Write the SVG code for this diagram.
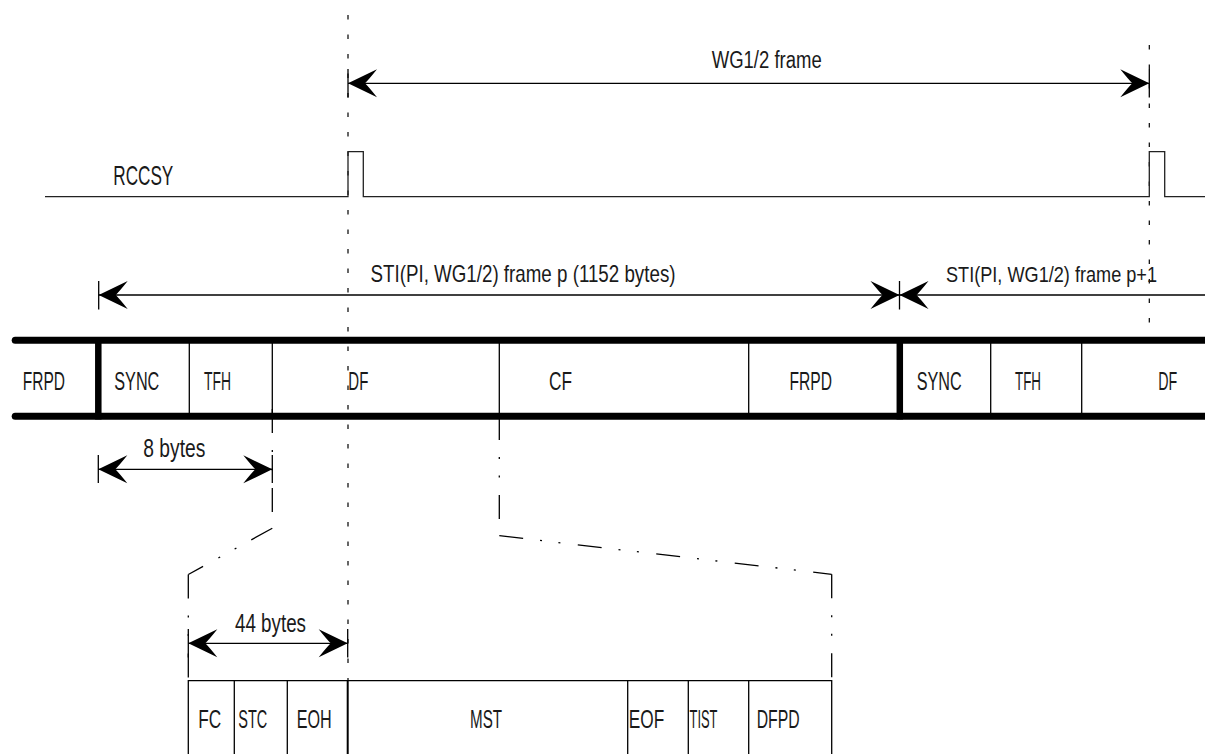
<svg xmlns="http://www.w3.org/2000/svg" width="1205" height="754" viewBox="0 0 1205 754">
<style>
  text { font-family: "Liberation Sans Narrow", "Liberation Sans", Arial, sans-serif; fill: #1a1a1a; }
  .thin { stroke: #000; stroke-width: 1.3; fill: none; }
  .sig { stroke: #222; stroke-width: 1.3; fill: none; }
  .bar { stroke: #000; stroke-width: 7; fill: none; stroke-linecap: round; }
  .bold { stroke: #000; stroke-width: 6.5; fill: none; }
  .dim { stroke: #000; stroke-width: 1.3; fill: none; marker-start: url(#ah); marker-end: url(#ah); }
  .guide { stroke: #000; stroke-width: 1.2; fill: none; stroke-dasharray: 4.5 15; }
  .exp { stroke: #000; stroke-width: 1.3; fill: none; stroke-dasharray: 24 17 2 16.5 2 17.5; }
  .lbl { font-size: 26.5px; }
  .sm { font-size: 24px; }
</style>
<defs>
  <marker id="ah" viewBox="-30 -15 31 30" markerWidth="31" markerHeight="30" refX="0" refY="0" orient="auto-start-reverse" markerUnits="userSpaceOnUse" overflow="visible">
    <path d="M0,0 L-29,-14 Q-21,-4 -17,0 Q-21,4 -29,14 Z" fill="#000"/>
  </marker>
</defs>
<rect width="1205" height="754" fill="#fff"/>

<g id="connectors">
  <!-- vertical timing guides -->
  <line class="guide" x1="348" y1="15" x2="348" y2="680"/>
  <line class="guide" x1="1149.3" y1="45" x2="1149.3" y2="323"/>
  <!-- WG1/2 frame dimension -->
  <line class="thin" x1="348" y1="69" x2="348" y2="97.5"/>
  <line class="thin" x1="1149.3" y1="69" x2="1149.3" y2="97.5"/>
  <line class="dim" x1="348" y1="83.3" x2="1149.3" y2="83.3"/>
  <!-- STI frame dimensions -->
  <line class="thin" x1="98.7" y1="281" x2="98.7" y2="309.5"/>
  <line class="thin" x1="899.5" y1="281" x2="899.5" y2="309.5"/>
  <line class="dim" x1="98.7" y1="295" x2="899.5" y2="295"/>
  <line class="thin" x1="899.5" y1="295" x2="1210" y2="295" marker-start="url(#ah)"/>
  <!-- 8 bytes -->
  <line class="thin" x1="98.3" y1="455" x2="98.3" y2="483"/>
  <line class="thin" x1="272.3" y1="455" x2="272.3" y2="483"/>
  <line class="dim" x1="98.3" y1="469.3" x2="272.3" y2="469.3"/>
  <!-- expansion lines -->
  <line class="exp" x1="272.3" y1="409" x2="272.3" y2="528.3"/>
  <line class="exp" x1="272.3" y1="528.3" x2="188.3" y2="574.5"/>
  <line class="exp" x1="188.3" y1="574.5" x2="188.3" y2="681"/>
  <line class="exp" x1="499.3" y1="416" x2="499.3" y2="535.7"/>
  <line class="exp" x1="499.3" y1="535.7" x2="831.7" y2="574.3"/>
  <line class="exp" x1="831.7" y1="574.3" x2="831.7" y2="681"/>
  <!-- 44 bytes -->
  <line class="thin" x1="188.3" y1="629" x2="188.3" y2="657.5"/>
  <line class="thin" x1="347.7" y1="629" x2="347.7" y2="657.5"/>
  <line class="dim" x1="188.3" y1="643.3" x2="347.7" y2="643.3"/>
</g>

<g id="wg-frame-label">
  <text x="711.7" y="67.7" style="font-size:23px" textLength="110" lengthAdjust="spacingAndGlyphs">WG1/2 frame</text>
</g>

<g id="rccsy">
  <polyline class="sig" points="45,196.7 348,196.7 348,151.7 363.3,151.7 363.3,196.7 1149.3,196.7 1149.3,151.7 1164.7,151.7 1164.7,196.7 1210,196.7"/>
  <text x="113.3" y="185" style="font-size:28.5px" textLength="60" lengthAdjust="spacingAndGlyphs">RCCSY</text>
</g>

<g id="sti-labels">
  <text class="sm" x="370.5" y="281.5" textLength="305" lengthAdjust="spacingAndGlyphs">STI(PI, WG1/2) frame p (1152 bytes)</text>
  <text x="946" y="281.5" style="font-size:21.8px" textLength="211" lengthAdjust="spacingAndGlyphs">STI(PI, WG1/2) frame p+1</text>
</g>

<g id="sti-stream">
  <line class="bar" x1="15.2" y1="340.3" x2="1212" y2="340.3"/>
  <line class="bar" x1="15.2" y1="416.3" x2="1212" y2="416.3"/>
  <line class="bold" x1="98.3" y1="340" x2="98.3" y2="419.5"/>
  <line class="bold" x1="899.8" y1="340" x2="899.8" y2="419.5"/>
  <g id="cell-frpd-prev"><text class="lbl" x="22.7" y="390" textLength="42.3" lengthAdjust="spacingAndGlyphs">FRPD</text></g>
  <g id="cell-sync"><text class="lbl" x="114.3" y="390" textLength="45" lengthAdjust="spacingAndGlyphs">SYNC</text></g>
  <g id="cell-tfh"><line class="thin" x1="189.3" y1="340" x2="189.3" y2="416"/><text class="lbl" x="204" y="390" textLength="27" lengthAdjust="spacingAndGlyphs">TFH</text></g>
  <g id="cell-df"><line class="thin" x1="272.3" y1="340" x2="272.3" y2="416"/><text class="lbl" x="348.3" y="390" textLength="20" lengthAdjust="spacingAndGlyphs">DF</text></g>
  <g id="cell-cf"><line class="thin" x1="499.3" y1="340" x2="499.3" y2="416"/><text class="lbl" x="549" y="390" textLength="23" lengthAdjust="spacingAndGlyphs">CF</text></g>
  <g id="cell-frpd"><line class="thin" x1="748.7" y1="340" x2="748.7" y2="416"/><text class="lbl" x="789.5" y="390" textLength="42.5" lengthAdjust="spacingAndGlyphs">FRPD</text></g>
  <g id="cell-sync-next"><text class="lbl" x="916.7" y="390" textLength="45" lengthAdjust="spacingAndGlyphs">SYNC</text></g>
  <g id="cell-tfh-next"><line class="thin" x1="990.7" y1="340" x2="990.7" y2="416"/><text class="lbl" x="1015" y="390" textLength="26" lengthAdjust="spacingAndGlyphs">TFH</text></g>
  <g id="cell-df-next"><line class="thin" x1="1081.7" y1="340" x2="1081.7" y2="416"/><text class="lbl" x="1158.3" y="390" textLength="19" lengthAdjust="spacingAndGlyphs">DF</text></g>
</g>

<g id="dim-labels">
  <text class="lbl" x="143.3" y="456.7" textLength="62" lengthAdjust="spacingAndGlyphs">8 bytes</text>
  <text class="lbl" x="235" y="631.7" textLength="71" lengthAdjust="spacingAndGlyphs">44 bytes</text>
</g>

<g id="df-detail">
  <line class="thin" x1="188.3" y1="680.7" x2="831.7" y2="680.7"/>
  <g id="cell-fc"><line class="thin" x1="188.3" y1="680" x2="188.3" y2="760"/><text class="lbl" x="198.3" y="728.3" textLength="23" lengthAdjust="spacingAndGlyphs">FC</text></g>
  <g id="cell-stc"><line class="thin" x1="234.3" y1="680" x2="234.3" y2="760"/><text class="lbl" x="238.3" y="728.3" textLength="29" lengthAdjust="spacingAndGlyphs">STC</text></g>
  <g id="cell-eoh"><line class="thin" x1="287.3" y1="680" x2="287.3" y2="760"/><text class="lbl" x="296.7" y="728.3" textLength="35" lengthAdjust="spacingAndGlyphs">EOH</text></g>
  <g id="cell-mst"><line class="thin" x1="347.7" y1="680" x2="347.7" y2="760" style="stroke-width:2"/><text class="lbl" x="470" y="728.3" textLength="32" lengthAdjust="spacingAndGlyphs">MST</text></g>
  <g id="cell-eof"><line class="thin" x1="627.7" y1="680" x2="627.7" y2="760"/><text class="lbl" x="628.8" y="728.3" textLength="35.5" lengthAdjust="spacingAndGlyphs">EOF</text></g>
  <g id="cell-tist"><line class="thin" x1="688.3" y1="680" x2="688.3" y2="760"/><text class="lbl" x="689.5" y="728.3" textLength="28" lengthAdjust="spacingAndGlyphs">TIST</text></g>
  <g id="cell-dfpd"><line class="thin" x1="748.7" y1="680" x2="748.7" y2="760"/><text class="lbl" x="756.7" y="728.3" textLength="43" lengthAdjust="spacingAndGlyphs">DFPD</text></g>
  <line class="thin" x1="831.7" y1="680" x2="831.7" y2="760"/>
</g>
</svg>
